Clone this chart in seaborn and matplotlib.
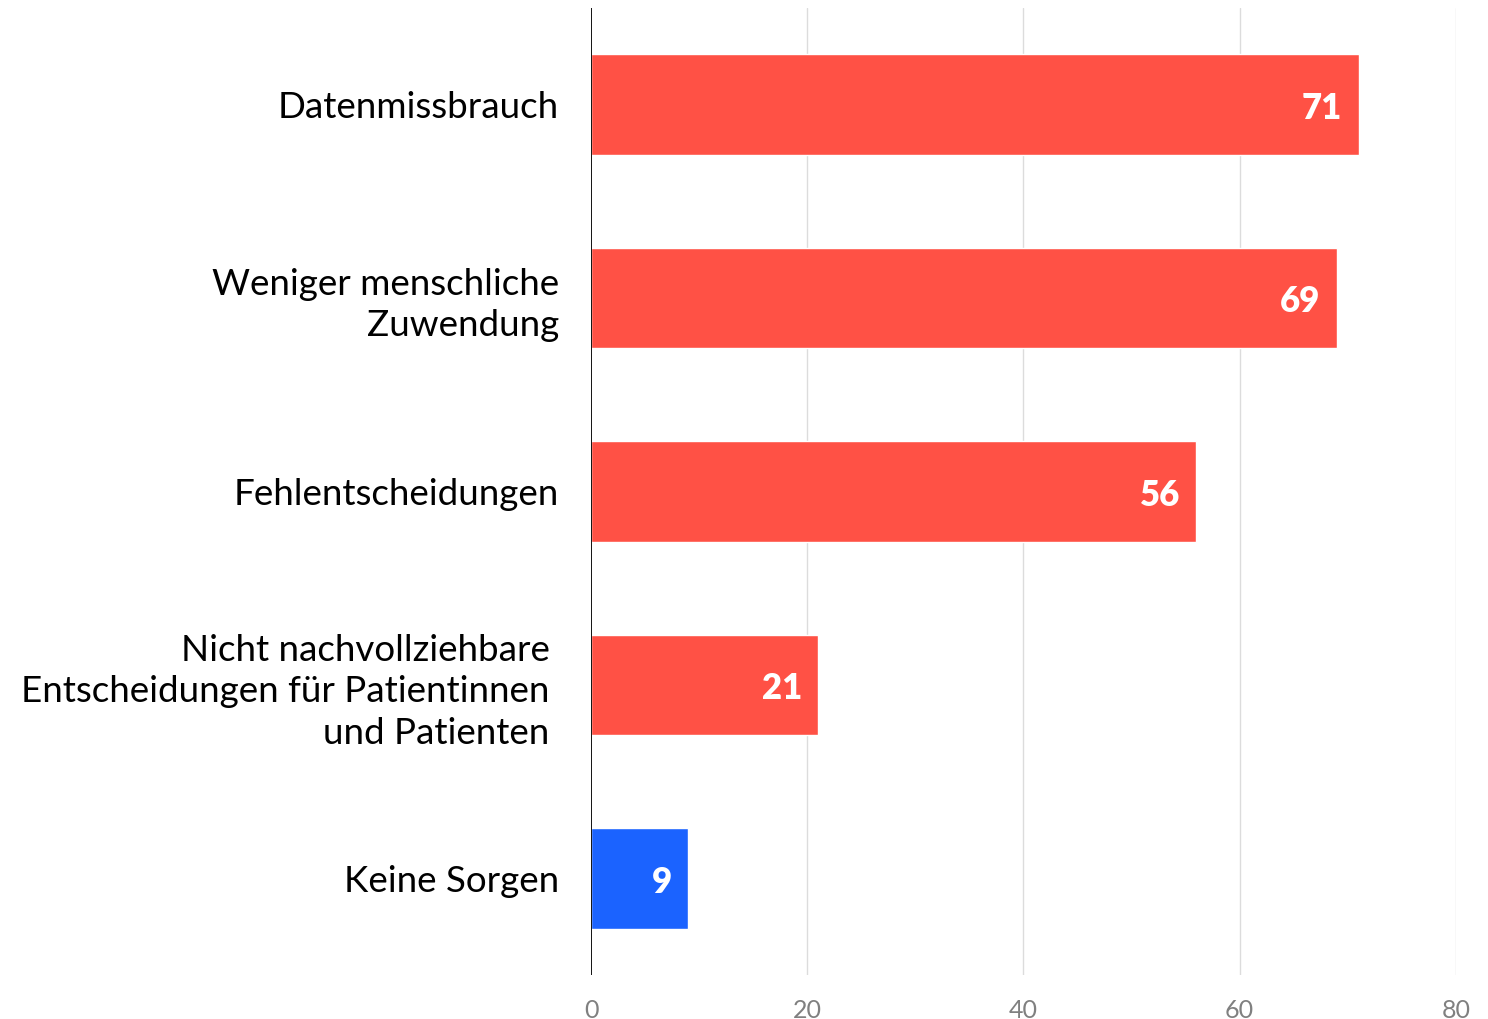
import matplotlib
matplotlib.use("Agg")
import matplotlib.pyplot as plt
import seaborn as sns
import pandas as pd

categories = [
    "Datenmissbrauch",
    "Weniger menschliche\nZuwendung",
    "Fehlentscheidungen",
    "Nicht nachvollziehbare \nEntscheidungen für Patientinnen \nund Patienten ",
    "Keine Sorgen",
]
values = [71, 69, 56, 21, 9]
groups = ["Sorge", "Sorge", "Sorge", "Sorge", "Keine"]
palette = {"Sorge": "#FF5145", "Keine": "#1B63FF"}
x_ticks = [0, 20, 40, 60, 80]

df = pd.DataFrame({"cat": categories, "val": values, "grp": groups})

sns.set_style("white")
plt.rcParams["font.family"] = ["Lato", "DejaVu Sans"]

fig = plt.figure(figsize=(14.88, 10.19), dpi=100)
ax = fig.add_axes([0.3972, 0.0432, 0.5812, 0.9489])

sns.barplot(data=df, y="cat", x="val", hue="grp", palette=palette, dodge=False,
            orient="h", width=0.52, legend=False, ax=ax, saturation=1)

ax.set_xlim(0, 80)
ax.set_ylim(4.5, -0.5)
ax.set_xticks(x_ticks)
ax.set_xticklabels([str(t) for t in x_ticks], color="#808080", fontsize=18)
ax.set_xlabel("")
ax.set_ylabel("")
for t in x_ticks[1:]:
    ax.axvline(t, color="#DCDCDC", lw=1, zorder=0)
ax.axvline(0, color="black", lw=1.3, zorder=3)
for s in ax.spines.values():
    s.set_visible(False)
ax.tick_params(axis="x", length=0, pad=17)
ax.tick_params(axis="y", length=0, pad=23, labelsize=26.5)
for lbl in ax.get_yticklabels():
    lbl.set_horizontalalignment("right")
    lbl.set_color("black")
    lbl.set_linespacing(1.3)

for i, v in enumerate(values):
    ax.text(v - 1.5, i + 0.02, str(v), color="white", fontsize=25, fontweight="heavy",
            ha="right", va="center")

fig.savefig("out.png", dpi=100)
